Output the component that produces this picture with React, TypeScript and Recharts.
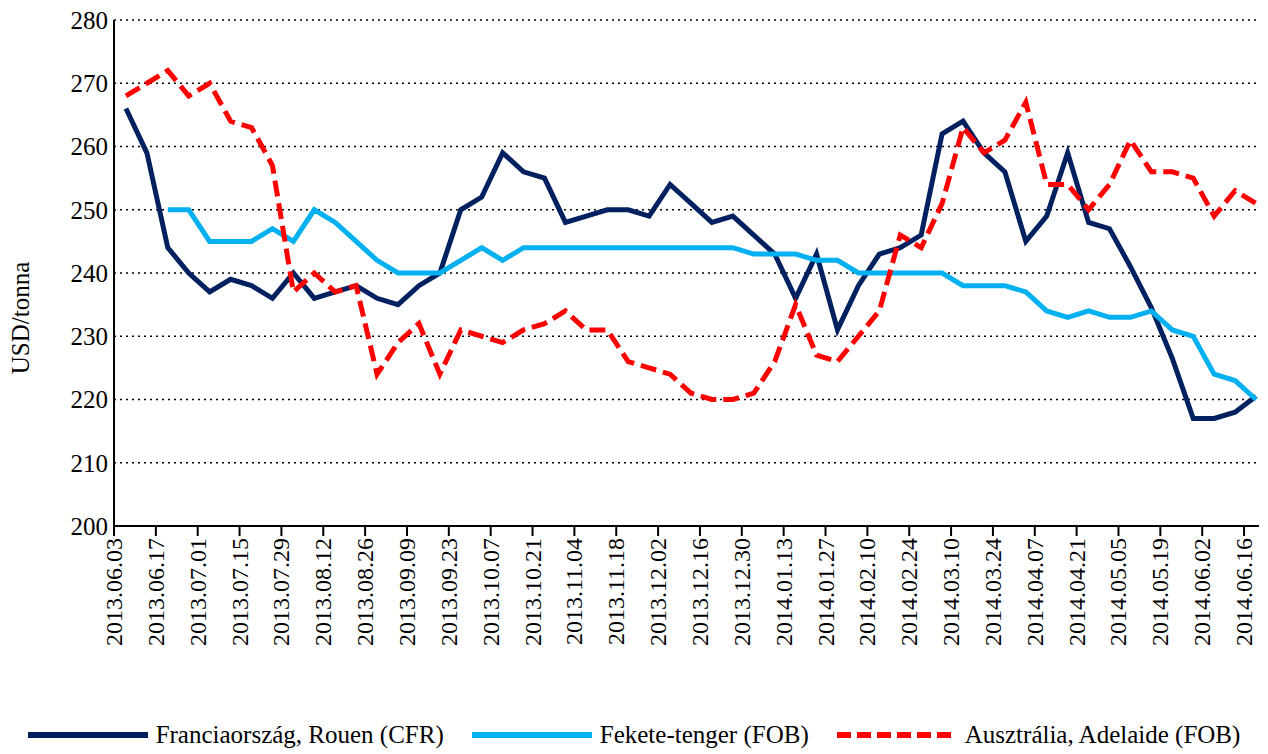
import React from 'react';
import { LineChart, Line, XAxis, YAxis, CartesianGrid } from 'recharts';

// heti jegyzések (hétfői dátumok)
const weeks = [
  '2013.06.03', '2013.06.10', '2013.06.17', '2013.06.24', '2013.07.01', '2013.07.08', '2013.07.15',
  '2013.07.22', '2013.07.29', '2013.08.05', '2013.08.12', '2013.08.19', '2013.08.26', '2013.09.02',
  '2013.09.09', '2013.09.16', '2013.09.23', '2013.09.30', '2013.10.07', '2013.10.14', '2013.10.21',
  '2013.10.28', '2013.11.04', '2013.11.11', '2013.11.18', '2013.11.25', '2013.12.02', '2013.12.09',
  '2013.12.16', '2013.12.23', '2013.12.30', '2014.01.06', '2014.01.13', '2014.01.20', '2014.01.27',
  '2014.02.03', '2014.02.10', '2014.02.17', '2014.02.24', '2014.03.03', '2014.03.10', '2014.03.17',
  '2014.03.24', '2014.03.31', '2014.04.07', '2014.04.14', '2014.04.21', '2014.04.28', '2014.05.05',
  '2014.05.12', '2014.05.19', '2014.05.26', '2014.06.02', '2014.06.09', '2014.06.16',
];

const rouen = [
  266, 259, 244, 240, 237, 239, 238, 236, 240, 236, 237, 238, 236, 235, 238, 240, 250, 252, 259, 256,
  255, 248, 249, 250, 250, 249, 254, 251, 248, 249, 246, 243, 236, 243, 231, 238, 243, 244, 246, 262,
  264, 259, 256, 245, 249, 259, 248, 247, 241, 234.5, 226.5, 217, 217, 218, 220.5,
];

const blackSea = [
  null, null, 250, 250, 245, 245, 245, 247, 245, 250, 248, 245, 242, 240, 240, 240, 242, 244, 242, 244,
  244, 244, 244, 244, 244, 244, 244, 244, 244, 244, 243, 243, 243, 242, 242, 240, 240, 240, 240, 240,
  238, 238, 238, 237, 234, 233, 234, 233, 233, 234, 231, 230, 224, 223, 220,
];

const adelaide = [
  268, 270, 272, 268, 270, 264, 263, 257, 237, 240, 237, 238, 224, 229, 232, 224, 231, 230, 229, 231,
  232, 234, 231, 231, 226, 225, 224, 221, 220, 220, 221, 226, 235, 227, 226, 230, 234, 246, 244, 251,
  263, 259, 261, 267, 254, 254, 250, 254, 261, 256, 256, 255, 249, 253, 251,
];

const yTicks = [200, 210, 220, 230, 240, 250, 260, 270, 280];

// péntekenként rögzített értékek -> nap a kezdőhéttől
const data = weeks.map((w, i) => ({
  day: i * 7 + 4,
  week: w,
  rouen: rouen[i],
  blackSea: blackSea[i],
  adelaide: adelaide[i],
}));

const tickDays = weeks.map((_, i) => i * 7).filter((_, i) => i % 2 === 0);

const FONT = '"Liberation Serif", Tinos, "DejaVu Serif", "Noto Serif", serif';
const NAVY = '#002060';
const LIGHT = '#00B0F0';
const RED = '#FF0000';

const DateTick = ({ x, y, payload }: any) => {
  const label = weeks[Math.round(payload.value / 7)];
  return (
    <text
      x={x}
      y={y}
      transform={`rotate(-90 ${x} ${y})`}
      textAnchor="end"
      dominantBaseline="central"
      style={{ fontFamily: FONT }}
      fontSize={24}
      fill="#000"
    >
      {label}
    </text>
  );
};

const legendItems = [
  { name: 'Franciaország, Rouen (CFR)', color: NAVY, dash: undefined },
  { name: 'Fekete-tenger (FOB)', color: LIGHT, dash: undefined },
  { name: 'Ausztrália, Adelaide (FOB)', color: RED, dash: '14 6' },
];

export default function App() {
  return (
    <div
      style={{
        position: 'absolute',
        left: 0,
        top: 0,
        width: 1268,
        height: 754,
        background: '#fff',
        fontFamily: FONT,
      }}
    >
      <LineChart
        width={1268}
        height={754}
        data={data}
        margin={{ top: 20, right: 9, bottom: 0, left: 0 }}
        style={{ fontFamily: FONT }}
      >
        <CartesianGrid vertical={false} stroke="#000" strokeWidth={1.5} strokeDasharray="2 4" />
        <XAxis
          dataKey="day"
          type="number"
          domain={[0, 383]}
          ticks={tickDays}
          interval={0}
          height={228}
          tick={<DateTick />}
          tickSize={10}
          tickMargin={2}
          axisLine={{ stroke: '#000', strokeWidth: 2 }}
          tickLine={{ stroke: '#000', strokeWidth: 2 }}
        />
        <YAxis
          domain={[200, 280]}
          ticks={yTicks}
          interval={0}
          width={114}
          tickLine={false}
          tickSize={0}
          tickMargin={6}
          axisLine={{ stroke: '#000', strokeWidth: 2 }}
          tick={{ fill: '#000', fontSize: 25, style: { fontFamily: FONT } }}
          label={{
            content: () => (
              <text
                x={20}
                y={318}
                transform="rotate(-90 20 318)"
                textAnchor="middle"
                dominantBaseline="central"
                style={{ fontFamily: FONT }}
                fontSize={25}
                fill="#000"
              >
                USD/tonna
              </text>
            ),
          }}
        />
        <Line type="linear" dataKey="rouen" stroke={NAVY} strokeWidth={5} dot={false} isAnimationActive={false} />
        <Line type="linear" dataKey="blackSea" stroke={LIGHT} strokeWidth={5} dot={false} isAnimationActive={false} />
        <Line
          type="linear"
          dataKey="adelaide"
          stroke={RED}
          strokeWidth={5}
          strokeDasharray="16 7"
          dot={false}
          isAnimationActive={false}
        />
      </LineChart>

      {/* jelmagyarázat */}
      <div
        style={{
          position: 'absolute',
          left: 0,
          top: 721,
          width: 1268,
          display: 'flex',
          justifyContent: 'center',
          gap: 28,
          fontSize: 25,
          color: '#000',
        }}
      >
        {legendItems.map((it) => (
          <div key={it.name} style={{ display: 'flex', alignItems: 'center', gap: 8 }}>
            <svg width={120} height={8}>
              <line x1={0} y1={4} x2={120} y2={4} stroke={it.color} strokeWidth={6} strokeDasharray={it.dash} />
            </svg>
            <span>{it.name}</span>
          </div>
        ))}
      </div>
    </div>
  );
}
